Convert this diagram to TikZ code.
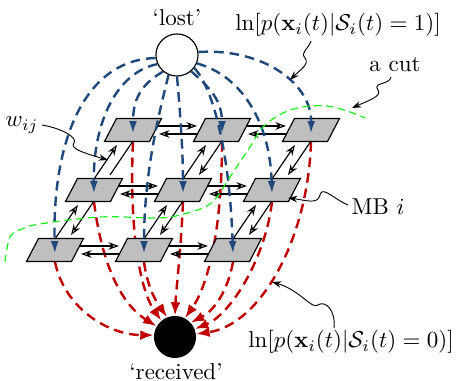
\documentclass[tikz,border=0pt]{standalone}
\usetikzlibrary{arrows.meta}
\definecolor{bblue}{RGB}{31,73,125}
\definecolor{rred}{RGB}{192,0,0}
\definecolor{cgreen}{RGB}{20,240,20}
\begin{document}
\begin{tikzpicture}[x=0.435pt,y=-0.435pt,
  pnode/.style={rectangle, inner sep=0pt, minimum width=24.8pt, minimum height=10pt},
  pbox/.style={line width=0.5pt, fill=black!25},
  bluearr/.style={draw=bblue, color=bblue, line width=1.05pt, dash pattern=on 4.2pt off 2.6pt, -{Latex[length=5.6pt,width=3.4pt]}},
  redarr/.style={draw=rred, color=rred, line width=1.05pt, dash pattern=on 4.2pt off 2.6pt, -{Latex[length=5.8pt,width=4.3pt]}},
  garr/.style={line width=0.5pt, -{Stealth[open,length=4.6pt,width=3.3pt]}},
  gline/.style={line width=0.5pt},
  sarr/.style={line width=0.4pt, -{Stealth[length=4pt,width=2.8pt]}},
  cut/.style={draw=cgreen, line width=0.5pt, dash pattern=on 3.2pt off 2pt},
  lbl/.style={inner sep=0pt}
]
\useasboundingbox (0,0) rectangle (456,381);

% grid nodes
\node[pnode] (n11) at (133,130) {};
\node[pnode] (n12) at (222,130) {};
\node[pnode] (n13) at (311,130) {};
\node[pnode] (n21) at (94,190) {};
\node[pnode] (n22) at (183,190) {};
\node[pnode] (n23) at (272,190) {};
\node[pnode] (n31) at (55,250) {};
\node[pnode] (n32) at (144,250) {};
\node[pnode] (n33) at (233,250) {};

\node[circle, draw, line width=0.5pt, fill=white, minimum size=18.3pt, inner sep=0pt] (lost) at (177,55) {};
\node[circle, fill=black, minimum size=18.3pt, inner sep=0pt] (recv) at (175,337) {};

% red curves (behind the grid)
\draw[redarr] (n11.south) .. controls (129,230) and (140,290) .. (recv.130);
\draw[redarr] (n21.south) .. controls (100,250) and (115,300) .. (recv.150);
\draw[redarr] (n31.south) .. controls (65,310) and (110,335) .. (recv.175);
\draw[redarr] (n32.south) .. controls (147,285) and (155,300) .. (recv.112);
\draw[redarr] (n22.south) .. controls (181,250) and (176,290) .. (recv.90);
\draw[redarr] (n12.south) .. controls (222,240) and (205,290) .. (recv.62);
\draw[redarr] (n33.south) .. controls (228,290) and (215,310) .. (recv.42);
\draw[redarr] (n23.south) .. controls (265,260) and (230,315) .. (recv.22);
\draw[redarr] (n13.south) .. controls (308,240) and (260,325) .. (recv.8);

% parallelogram faces of the grid nodes
\foreach \n in {n11,n12,n13,n21,n22,n23,n31,n32,n33}
  \draw[pbox] ([shift={(-28.5,11.5)}]\n.center) -- ([shift={(16.5,11.5)}]\n.center) -- ([shift={(28.5,-11.5)}]\n.center) -- ([shift={(-16.5,-11.5)}]\n.center) -- cycle;

% horizontal arrow pairs
\foreach \a/\b in {n11/n12,n12/n13,n21/n22,n22/n23,n31/n32,n32/n33} {
  \draw[garr] ([shift={(24,-4)}]\a.center) -- ([shift={(-25,-4)}]\b.center);
  \draw[garr] ([shift={(-24,4)}]\b.center) -- ([shift={(26,4)}]\a.center);
}
% diagonal arrow pairs
\foreach \l/\u in {n22/n12,n23/n13,n31/n21,n32/n22,n33/n23} {
  \draw[garr] ([shift={(0,-11)}]\l.center) -- ([shift={(-16,15)}]\u.center);
  \draw[garr] ([shift={(0,11)}]\u.center) -- ([shift={(16,-15)}]\l.center);
}
\draw[garr] ([shift={(0,-11)}]n21.center) -- ([shift={(-16,15)}]n11.center);
\draw[gline] ([shift={(0,11)}]n11.center) -- ([shift={(16,-15)}]n21.center);

% blue curves
\draw[bluearr] (lost.188) .. controls (80,60) and (52,150) .. ([shift={(0,4)}]n31.center);
\draw[bluearr] (lost.205) .. controls (118,72) and (93,120) .. ([shift={(0,4)}]n21.center);
\draw[bluearr] (lost.230) .. controls (140,85) and (133,100) .. ([shift={(0,4)}]n11.center);
\draw[bluearr] (lost.247) .. controls (160,110) and (144,170) .. ([shift={(0,4)}]n32.center);
\draw[bluearr] (lost.270) .. controls (180,110) and (183,150) .. ([shift={(0,4)}]n22.center);
\draw[bluearr] (lost.311) .. controls (210,88) and (222,100) .. ([shift={(0,4)}]n12.center);
\draw[bluearr] (lost.323) .. controls (215,90) and (230,160) .. ([shift={(0,4)}]n33.center);
\draw[bluearr] (lost.337) .. controls (240,75) and (270,120) .. ([shift={(0,4)}]n23.center);
\draw[bluearr] (lost.8) .. controls (265,48) and (312,85) .. ([shift={(0,4)}]n13.center);

% the cut
\draw[cut] plot[smooth, tension=0.6] coordinates {(5,262) (10,237) (22,229) (40,224) (100,217) (157,218) (180,215) (205,207) (217,197) (230,177) (250,147) (263,127) (283,113) (303,107) (327,106) (350,112) (365,118)};

% labels
\node[lbl] (lostlbl) at (177,18) {‘lost’};
\node[lbl] (recvlbl) at (176,372) {‘received’};
\node[lbl] (l1) at (338,25) {$\ln[p(\mathbf{x}_i(t)|\mathcal{S}_i(t)=1)]$};
\node[lbl] (l0) at (351,342) {$\ln[p(\mathbf{x}_i(t)|\mathcal{S}_i(t)=0)]$};
\node[lbl] (cutl) at (395,65) {a cut};
\node[lbl] (wl) at (22,125) {$w_{ij}$};
\node[lbl] (mbl) at (378,207) {MB $i$};

% pointer coordinates
\coordinate (s1) at (311,41);  \coordinate (t1) at (290,80);
\coordinate (s2) at (391,77);  \coordinate (t2) at (352,108);
\coordinate (s3) at (348,205); \coordinate (t3) at (288,198);
\coordinate (s4) at (334,328); \coordinate (t4) at (272,282);
\coordinate (s5) at (42,125);  \coordinate (t5) at (108,160);

\draw[sarr] (s1) .. controls (308,50) and (300,52) .. (305,58) .. controls (310,64) and (300,70) .. (t1);
\draw[sarr] (s2) .. controls (390,85) and (372,82) .. (378,90) .. controls (382,96) and (370,100) .. (t2);
\draw[sarr] (s3) .. controls (335,200) and (322,185) .. (320,195) .. controls (318,205) and (305,200) .. (t3);
\draw[sarr] (s4) .. controls (336,310) and (325,300) .. (318,305) .. controls (312,310) and (300,290) .. (t4);
\draw[sarr] (s5) .. controls (60,128) and (78,137) .. (74,143) .. controls (70,148) and (80,152) .. (t5);
\end{tikzpicture}
\end{document}
